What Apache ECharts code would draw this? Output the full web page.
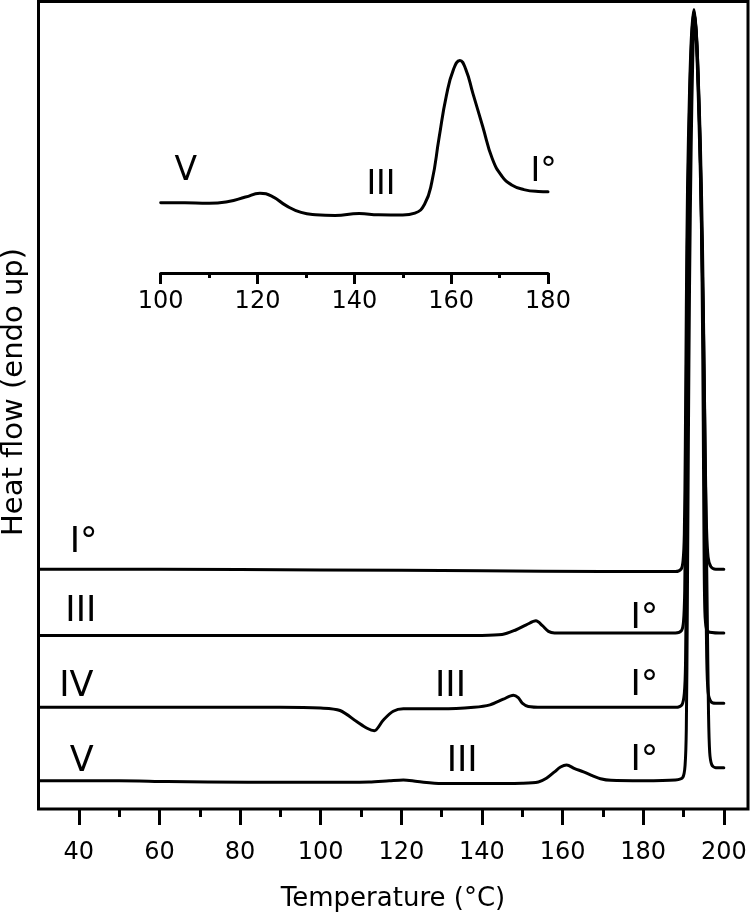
<!DOCTYPE html>
<html>
<head>
<meta charset="utf-8">
<script src="https://cdn.jsdelivr.net/npm/echarts@6/dist/echarts.min.js"></script>
<style>
html,body{margin:0;padding:0;background:#fff;}
#chart{width:752px;height:917px;}
</style>
</head>
<body>
<div id="chart"></div>
<script>
// Main DSC traces: [temperature °C, heat flow (arbitrary units, endo up)]
const traceI = [[30,29.7],[60,29.7],[100,29.6],[140,29.5],[170,29.4],[188,29.4],[189.4,29.7],[189.9,30.8],[190.2,34],[190.45,45],[190.7,62],[191.0,77],[191.5,89],[192.0,96],[192.6,99],[193.2,96],[193.7,90],[194.2,82],[194.7,70],[195.1,55],[195.4,42],[195.7,35],[196.1,31.2],[196.8,30],[198,29.7],[200,29.7]];
const traceIII = [[30,21.5],[80,21.5],[120,21.5],[140,21.5],[145,21.6],[148.5,22.2],[151,22.8],[153.4,23.3],[155,22.7],[156.5,22.0],[158,21.8],[170,21.8],[188,21.8],[189.5,22.1],[190.0,23.2],[190.3,27],[190.55,40],[190.8,60],[191.1,76],[191.6,89],[192.1,96],[192.6,98.8],[193.2,95.5],[193.7,89],[194.2,80],[194.6,66],[194.9,48],[195.1,32],[195.3,24.5],[195.7,22.3],[196.5,21.9],[200,21.8]];
const traceIV = [[30,12.6],[60,12.6],[90,12.6],[100,12.5],[104.8,12.2],[109,10.8],[111.5,10.0],[113.3,9.7],[115.5,11.0],[118,12.1],[120.5,12.4],[130,12.4],[138,12.6],[142,12.9],[145.3,13.6],[147.8,14.1],[149,13.8],[150,13.1],[151.5,12.7],[155,12.6],[170,12.6],[188,12.6],[189.6,12.9],[190.2,14.3],[190.5,18],[190.75,32],[191.0,52],[191.3,70],[191.8,86],[192.2,94],[192.7,98.5],[193.3,95],[193.8,88],[194.3,78],[194.8,62],[195.2,45],[195.5,30],[195.75,19],[196.1,14.5],[196.8,13.3],[198,13.1],[200,13.1]];
const traceV = [[30,3.5],[50,3.5],[62,3.4],[82,3.3],[100,3.3],[112,3.35],[117,3.5],[120.5,3.6],[124,3.4],[130,3.15],[140,3.15],[150,3.2],[154,3.35],[156,3.8],[158,4.6],[159.5,5.2],[161,5.45],[163,5.0],[165.2,4.6],[167.5,4.1],[169.4,3.75],[172,3.55],[180,3.5],[188,3.6],[189.8,3.9],[190.4,5.5],[190.7,10],[190.95,25],[191.2,45],[191.5,65],[191.9,82],[192.3,93],[192.7,98],[193.2,95],[193.8,86],[194.4,74],[195,58],[195.5,40],[195.9,24],[196.2,12],[196.5,7],[197,5.5],[198,5.1],[200,5.1]];

// Inset: enlarged trace V between 100 and 180 °C
const insetTrace = [[100,30.2],[105,30.1],[110,29.9],[114,30.7],[117.5,32.6],[120.5,34.2],[123,32.9],[126,28.8],[129,26.0],[132,25.0],[136,24.7],[141,25.5],[145,25.0],[150,24.9],[152.5,25.7],[154.5,29.5],[156,39],[157.5,58],[159,76],[160.5,87.5],[161.8,91.2],[163,87.5],[164.5,77],[166.5,63],[168.5,49],[170.5,41.5],[172.5,37.8],[175,35.8],[178,35.0],[180,34.9]];

// Axis ticks
const mainMajorTicks = [40,60,80,100,120,140,160,180,200];
const mainMinorTicks = [50,70,90,110,130,150,170,190];

// Phase labels [temperature, heat flow, text]
const mainLabels = [[41.2,33.0,'I°'],[40.5,24.4,'III'],[39.4,15.1,'IV'],[40.7,5.8,'V'],[132.2,15.1,'III'],[135.1,5.8,'III'],[180.3,23.6,'I°'],[180.3,15.2,'I°'],[180.3,5.9,'I°']];
const insetLabels = [[105.2,43.4,'V'],[145.5,37.6,'III'],[179.1,43.0,'I°']];

// Axis titles
const xTitle = 'Temperature (°C)';
const yTitle = 'Heat flow (endo up)';

const FONT = 'DejaVu Sans';
const chart = echarts.init(document.getElementById('chart'), null, {renderer:'canvas'});

function lineSeries(data, xi, yi, sm) {
  return {type:'line', xAxisIndex:xi, yAxisIndex:yi, data:data, showSymbol:false, symbol:'none',
    smooth:sm, lineStyle:{color:'#000', width:3, join:'round', cap:'round'}, silent:true, animation:false};
}
function labelSeries(arr, xi, yi, size) {
  return {type:'custom', xAxisIndex:xi, yAxisIndex:yi, silent:true, animation:false,
    data: arr.map(d => [d[0], d[1]]),
    renderItem: function(params, api) {
      const p = api.coord([api.value(0), api.value(1)]);
      return {type:'text', x:p[0], y:p[1],
        style:{text:arr[params.dataIndex][2], fontSize:size, fontFamily:FONT, fill:'#000',
          textAlign:'center', textVerticalAlign:'middle'}};
    }};
}

chart.setOption({
  animation:false,
  backgroundColor:'#fff',
  grid:[
    {left:38.5, top:1.5, right:4, bottom:108, show:true, borderColor:'#000', borderWidth:3, backgroundColor:'transparent', containLabel:false, outerBoundsMode:'none'},
    {left:160.7, top:40, width:387.3, height:233, show:false, containLabel:false, outerBoundsMode:'none'}
  ],
  xAxis:[
    {gridIndex:0, type:'value', min:30, max:206, position:'bottom',
      axisLine:{show:false}, splitLine:{show:false},
      axisTick:{show:true, customValues:mainMajorTicks, length:16, lineStyle:{color:'#000', width:3}},
      axisLabel:{show:true, customValues:mainMajorTicks, fontSize:24, margin:32, color:'#000', fontFamily:FONT}},
    {gridIndex:0, type:'value', min:30, max:206, position:'bottom', offset:0,
      axisLine:{show:false}, splitLine:{show:false},
      axisTick:{show:true, customValues:mainMinorTicks, length:8, lineStyle:{color:'#000', width:3}},
      axisLabel:{show:false}},
    {gridIndex:1, type:'value', min:100, max:180, interval:20, position:'bottom',
      axisLine:{show:true, onZero:false, lineStyle:{color:'#000', width:3}}, splitLine:{show:false},
      axisTick:{show:true, length:11, lineStyle:{color:'#000', width:3}},
      minorTick:{show:true, splitNumber:2, length:5, lineStyle:{color:'#000', width:3}},
      axisLabel:{show:true, fontSize:24, margin:17, color:'#000', fontFamily:FONT}}
  ],
  yAxis:[
    {gridIndex:0, type:'value', min:0, max:100, show:false},
    {gridIndex:1, type:'value', min:0, max:100, show:false}
  ],
  graphic:[
    {type:'text', x:14, y:392, rotation:Math.PI/2,
      style:{text:yTitle, fontSize:29, fontFamily:FONT, fill:'#000', textAlign:'center', textVerticalAlign:'middle'}},
    {type:'text', x:393, y:899,
      style:{text:xTitle, fontSize:26, fontFamily:FONT, fill:'#000', textAlign:'center', textVerticalAlign:'middle'}}
  ],
  series:[
    lineSeries(traceI,0,0,0.3),
    lineSeries(traceIII,0,0,0.3),
    lineSeries(traceIV,0,0,0.3),
    lineSeries(traceV,0,0,0.3),
    lineSeries(insetTrace,2,1,0.5),
    labelSeries(mainLabels,0,0,35),
    labelSeries(insetLabels,2,1,33)
  ]
});
</script>
</body>
</html>
